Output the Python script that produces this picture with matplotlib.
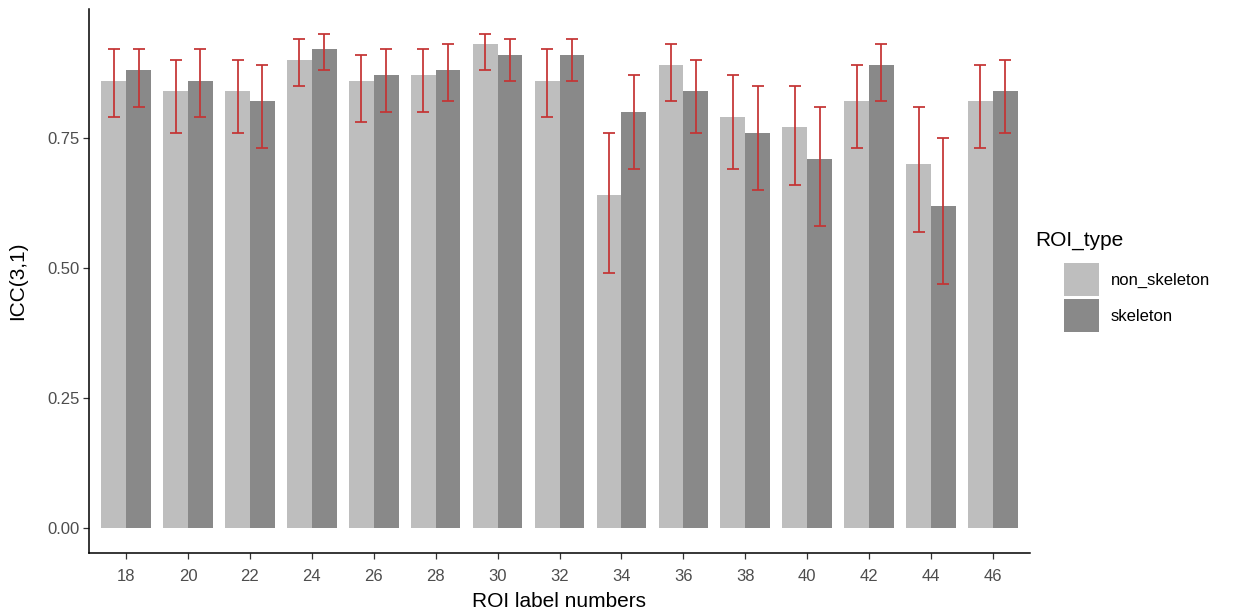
import numpy as np
import matplotlib.pyplot as plt
from matplotlib.patches import Rectangle

plt.rcParams['font.family'] = ['Liberation Sans', 'DejaVu Sans']

# ICC(3,1) per ROI label, with 95% CI bounds
roi_labels = ['18', '20', '22', '24', '26', '28', '30', '32',
              '34', '36', '38', '40', '42', '44', '46']
non_skel = [0.86, 0.84, 0.84, 0.90, 0.86, 0.87, 0.93, 0.86,
            0.64, 0.89, 0.79, 0.77, 0.82, 0.70, 0.82]
non_skel_lo = [0.79, 0.76, 0.76, 0.85, 0.78, 0.80, 0.88, 0.79,
               0.49, 0.82, 0.69, 0.66, 0.73, 0.57, 0.73]
non_skel_hi = [0.92, 0.90, 0.90, 0.94, 0.91, 0.92, 0.95, 0.92,
               0.76, 0.93, 0.87, 0.85, 0.89, 0.81, 0.89]
skel = [0.88, 0.86, 0.82, 0.92, 0.87, 0.88, 0.91, 0.91,
        0.80, 0.84, 0.76, 0.71, 0.89, 0.62, 0.84]
skel_lo = [0.81, 0.79, 0.73, 0.88, 0.80, 0.82, 0.86, 0.86,
           0.69, 0.76, 0.65, 0.58, 0.82, 0.47, 0.76]
skel_hi = [0.92, 0.92, 0.89, 0.95, 0.92, 0.93, 0.94, 0.94,
           0.87, 0.90, 0.85, 0.81, 0.93, 0.75, 0.90]
groups = ['non_skeleton', 'skeleton']

col_non = '#BEBEBE'
col_skel = '#898989'
col_err = '#C43434'
txt_col = '#4D4D4D'

W, H = 1238, 612
fig = plt.figure(figsize=(W / 100, H / 100), dpi=100)
ax = fig.add_axes([89 / W, 59 / H, (1030 - 89) / W, (553 - 9) / H])

x = np.arange(len(roi_labels))
w = 0.4

def draw(vals, lo, hi, offset, color):
    vals = np.array(vals)
    ax.bar(x + offset, vals, width=w, color=color, edgecolor='none', zorder=2)
    yerr = [vals - np.array(lo), np.array(hi) - vals]
    ax.errorbar(x + offset, vals, yerr=yerr, fmt='none', ecolor=col_err,
                elinewidth=1.4, capsize=4.5, capthick=1.4, alpha=0.9, zorder=3)

draw(non_skel, non_skel_lo, non_skel_hi, -w / 2, col_non)
draw(skel, skel_lo, skel_hi, w / 2, col_skel)

ax.set_xlim(-0.6, len(roi_labels) - 0.4)
ax.set_ylim(-0.0475, 0.9975)
ax.set_xticks(x)
ax.set_xticklabels(roi_labels)
ax.set_yticks([0, 0.25, 0.5, 0.75])
ax.set_yticklabels(['0.00', '0.25', '0.50', '0.75'])
ax.tick_params(axis='both', length=4.5, width=0.9, color='#333333',
               labelcolor=txt_col, labelsize=12, pad=2)
ax.tick_params(axis='x', pad=7)

for s in ['top', 'right']:
    ax.spines[s].set_visible(False)
for s in ['left', 'bottom']:
    ax.spines[s].set_linewidth(1.1)
    ax.spines[s].set_color('black')

ax.set_xlabel('ROI label numbers', fontsize=15, color='black', labelpad=6)
ax.set_ylabel('ICC(3,1)', fontsize=15, color='black', labelpad=15)

# legend, laid out in figure pixels
fig.text(1035 / W, 1 - 241 / H, 'ROI_type', fontsize=15, va='center', ha='left')
for i, (name, col) in enumerate(zip(groups, [col_non, col_skel])):
    top = 263 + i * 36
    fig.add_artist(Rectangle((1064 / W, 1 - (top + 33) / H), 35 / W, 33 / H,
                             transform=fig.transFigure, facecolor=col,
                             edgecolor='none'))
    fig.text(1111 / W, 1 - (top + 17) / H, name, fontsize=12,
             va='center', ha='left')

fig.savefig('out.png', dpi=100)
